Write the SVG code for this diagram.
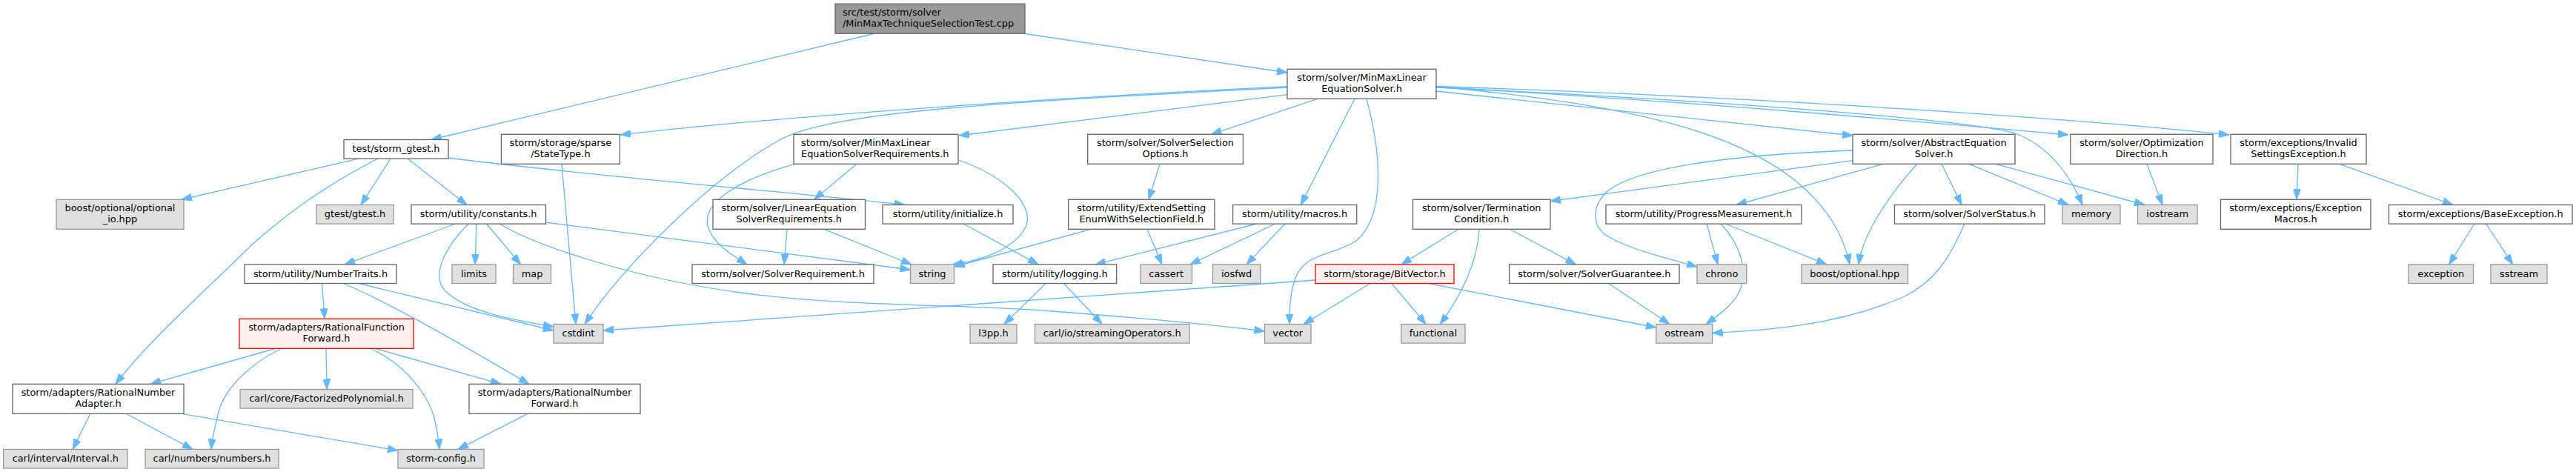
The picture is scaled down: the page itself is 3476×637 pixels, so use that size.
<svg xmlns="http://www.w3.org/2000/svg" width="3476" height="637" viewBox="0 0 3476 637">
<style>
text{font-family:"DejaVu Sans","Liberation Sans",sans-serif;font-size:12.9px;fill:#000;text-anchor:middle}
.n rect{fill:#fff;stroke:#666;stroke-width:1.3}
.g rect{fill:#E0E0E0;stroke:#999;stroke-width:1.3}
.r rect{fill:#FFF0F0;stroke:#f00;stroke-width:1.3}
.root rect{fill:#999;stroke:#666;stroke-width:1.3}
.l text{text-anchor:start}
#edges path{fill:none;stroke:#63B8FF;stroke-width:1.3;marker-end:url(#a)}
</style>
<defs>
<marker id="a" viewBox="0 0 14 10" refX="14" refY="5" markerWidth="14" markerHeight="10" markerUnits="userSpaceOnUse" orient="auto"><path d="M0,0 L14,5 L0,10 z" fill="#63B8FF" stroke="#63B8FF"/></marker>
</defs>
<rect width="3476" height="637" fill="#fff"/>
<g id="edges">
<path d="M1179,45.5 L582,188.5"/>
<path d="M1383,45.5 L1737,98"/>
<path d="M484,214.1 L245,269.3"/>
<path d="M527,214.1 L487,276.5"/>
<path d="M550,214.1 L630,276.5"/>
<path d="M510,214.1 C430,255 380,295 340,330 C280,390 200,460 156,518.3"/>
<path d="M605,213 C800,238 1100,262 1221,276.5"/>
<path d="M1737,116.7 C1500,128 1100,152 837,182"/>
<path d="M1737,118 C1350,138 1120,150 1050,190 C960,240 840,360 789,437.5"/>
<path d="M1737,127.7 L1294,183"/>
<path d="M1778,133.3 L1634.5,181.3"/>
<path d="M1828,133.3 L1755.3,276.5"/>
<path d="M1844,133.3 C1862,200 1872,290 1830,325 C1800,345 1762,340 1748,375 C1741,395 1740,415 1740,437.5"/>
<path d="M1938,123 L2500,183"/>
<path d="M1938,117 C2200,140 2350,180 2430,250 C2470,285 2488,320 2496,356.9"/>
<path d="M1938,118 C2300,135 2650,160 2720,180 C2770,200 2795,240 2810,276.5"/>
<path d="M1938,117.5 C2300,138 2600,165 2791,182"/>
<path d="M1938,116.5 C2400,132 2800,160 3008,182"/>
<path d="M615,302 L465,356.9"/>
<path d="M643,302 L641,356.9"/>
<path d="M656.5,302 L702.5,356.9"/>
<path d="M632,302 C600,335 582,370 600,392 C630,422 700,433 747,441"/>
<path d="M736,300 L1228.5,364"/>
<path d="M674,302 C720,330 850,375 1000,395 C1150,415 1300,410 1420,420 C1550,430 1650,440 1706.5,447"/>
<path d="M434.5,382.5 L438,430.3"/>
<path d="M484,382.5 L747,446"/>
<path d="M463,382.5 C530,410 640,475 714,518.3"/>
<path d="M371,470.5 L203,518.3"/>
<path d="M379,470.5 C330,495 300,530 294,560 C289,580 286,595 285,606.4"/>
<path d="M440,470.5 L441,525.5"/>
<path d="M500,470.5 C545,490 575,530 585,560 C590,580 592,595 593,606.4"/>
<path d="M507,470.5 L676,518.3"/>
<path d="M122,558.3 L98,606.4"/>
<path d="M170,558.3 L260,606.4"/>
<path d="M245,558.3 L537,608"/>
<path d="M712,558.3 L618,606.4"/>
<path d="M758,221.3 L777,437.5"/>
<path d="M1156,221.3 L1098.5,269.3"/>
<path d="M1072,221.3 C990,245 948,275 955,305 C962,330 990,345 1008,356.9"/>
<path d="M1294,216 C1360,240 1400,280 1382,310 C1365,338 1322,352 1285,357"/>
<path d="M1062,309.3 L1058,356.9"/>
<path d="M1112,309.3 L1230,357"/>
<path d="M1300,302 L1401,356.9"/>
<path d="M1565,221.3 L1550,269.3"/>
<path d="M1472,309.3 L1288,360"/>
<path d="M1548,309.3 L1568,356.9"/>
<path d="M1696,302 L1478,356.9"/>
<path d="M1721,302 L1606,356.9"/>
<path d="M1734,302 L1682,356.9"/>
<path d="M1411,382.5 L1355,437.5"/>
<path d="M1435.5,382.5 L1487,437.5"/>
<path d="M2500,216.7 L2092,271.5"/>
<path d="M2500,203 C2350,208 2200,225 2165,262 C2145,285 2150,310 2175,322 C2210,340 2255,350 2290,360"/>
<path d="M2541,221.3 L2343,276.5"/>
<path d="M2620,221.3 L2647,276.5"/>
<path d="M2657,221.3 L2791,276.5"/>
<path d="M2693,221.3 L2894,276.5"/>
<path d="M2587,221.3 C2560,250 2528,295 2515,330 C2511,340 2509,350 2508,356.9"/>
<path d="M1968,309.3 L1891,356.9"/>
<path d="M1996,309.3 C1994,350 1975,395 1943,437.5"/>
<path d="M2037,309.3 L2126.5,356.9"/>
<path d="M1775,378 L814,446"/>
<path d="M1849,382.5 L1759,437.5"/>
<path d="M1878,382.5 L1924,437.5"/>
<path d="M1927.5,382.5 L2234.8,442"/>
<path d="M2170.5,382.5 L2253,437.5"/>
<path d="M2303,302 L2318,356.9"/>
<path d="M2322,302 C2348,330 2365,372 2340,405 C2328,420 2312,430 2302,437.5"/>
<path d="M2328,302 L2465,356.9"/>
<path d="M2651,302 C2630,350 2610,380 2570,400 C2480,440 2380,446 2310.6,449.5"/>
<path d="M2897,221.3 L2918,276.5"/>
<path d="M3101,221.3 L3099,269.3"/>
<path d="M3157,221.3 L3310,276.5"/>
<path d="M3339,302 L3304.6,356.9"/>
<path d="M3354.4,302 L3390.7,356.9"/>
</g>
<g id="n0" class="root l"><rect x="1127" y="5.2" width="256" height="40"/><text x="1137" y="21.2">src/test/storm/solver</text><text x="1137" y="35.8">/MinMaxTechniqueSelectionTest.cpp</text></g>
<g id="n2" class="n"><rect x="1737" y="93.3" width="201" height="40"/><text x="1837.5" y="109.3">storm/solver/MinMaxLinear</text><text x="1837.5" y="123.9">EquationSolver.h</text></g>
<g id="n1" class="n"><rect x="464" y="188.5" width="141" height="25.6"/><text x="534.5" y="205.3">test/storm_gtest.h</text></g>
<g id="n20" class="n"><rect x="676.4" y="181.3" width="160" height="40"/><text x="756.4" y="197.3">storm/storage/sparse</text><text x="756.4" y="211.9">/StateType.h</text></g>
<g id="n21" class="n l"><rect x="1071" y="181.3" width="222" height="40"/><text x="1081" y="197.3">storm/solver/MinMaxLinear</text><text x="1081" y="211.9">EquationSolverRequirements.h</text></g>
<g id="n24" class="n"><rect x="1467.7" y="181.3" width="209.7" height="40"/><text x="1572.5" y="197.3">storm/solver/SolverSelection</text><text x="1572.5" y="211.9">Options.h</text></g>
<g id="n39" class="n"><rect x="2500" y="181.3" width="219" height="40"/><text x="2609.5" y="197.3">storm/solver/AbstractEquation</text><text x="2609.5" y="211.9">Solver.h</text></g>
<g id="n40" class="n"><rect x="2793.8" y="181.3" width="192.2" height="40"/><text x="2889.9" y="197.3">storm/solver/Optimization</text><text x="2889.9" y="211.9">Direction.h</text></g>
<g id="n45" class="n"><rect x="3010" y="181.3" width="183" height="40"/><text x="3101.5" y="197.3">storm/exceptions/Invalid</text><text x="3101.5" y="211.9">SettingsException.h</text></g>
<g id="n3" class="g"><rect x="76" y="269.3" width="172" height="40"/><text x="162" y="285.3">boost/optional/optional</text><text x="162" y="299.9">_io.hpp</text></g>
<g id="n4" class="g"><rect x="427" y="276.5" width="104" height="25.6"/><text x="479" y="293.3">gtest/gtest.h</text></g>
<g id="n5" class="n"><rect x="555" y="276.5" width="181.5" height="25.6"/><text x="645.7" y="293.3">storm/utility/constants.h</text></g>
<g id="n22" class="n"><rect x="962" y="269.3" width="205.5" height="40"/><text x="1064.7" y="285.3">storm/solver/LinearEquation</text><text x="1064.7" y="299.9">SolverRequirements.h</text></g>
<g id="n7" class="n"><rect x="1191" y="276.5" width="176" height="25.6"/><text x="1279" y="293.3">storm/utility/initialize.h</text></g>
<g id="n25" class="n"><rect x="1441.7" y="269.3" width="197.3" height="40"/><text x="1540.3" y="285.3">storm/utility/ExtendSetting</text><text x="1540.3" y="299.9">EnumWithSelectionField.h</text></g>
<g id="n26" class="n"><rect x="1663.6" y="276.5" width="167.1" height="25.6"/><text x="1747.1" y="293.3">storm/utility/macros.h</text></g>
<g id="n32" class="n"><rect x="1906.5" y="269.3" width="185.5" height="40"/><text x="1999.2" y="285.3">storm/solver/Termination</text><text x="1999.2" y="299.9">Condition.h</text></g>
<g id="n33" class="n"><rect x="2167" y="276.5" width="264" height="25.6"/><text x="2299" y="293.3">storm/utility/ProgressMeasurement.h</text></g>
<g id="n41" class="n"><rect x="2556.5" y="276.5" width="202.5" height="25.6"/><text x="2657.7" y="293.3">storm/solver/SolverStatus.h</text></g>
<g id="n42" class="g"><rect x="2783" y="276.5" width="78" height="25.6"/><text x="2822" y="293.3">memory</text></g>
<g id="n43" class="g"><rect x="2884.5" y="276.5" width="80.5" height="25.6"/><text x="2924.7" y="293.3">iostream</text></g>
<g id="n46" class="n"><rect x="2996.5" y="269.3" width="202.5" height="40"/><text x="3097.7" y="285.3">storm/exceptions/Exception</text><text x="3097.7" y="299.9">Macros.h</text></g>
<g id="n47" class="n"><rect x="3223.5" y="276.5" width="247.5" height="25.6"/><text x="3347.2" y="293.3">storm/exceptions/BaseException.h</text></g>
<g id="n8" class="n"><rect x="330" y="356.9" width="205" height="25.6"/><text x="432.5" y="373.7">storm/utility/NumberTraits.h</text></g>
<g id="n9" class="g"><rect x="610" y="356.9" width="59" height="25.6"/><text x="639.5" y="373.7">limits</text></g>
<g id="n10" class="g"><rect x="692.5" y="356.9" width="51" height="25.6"/><text x="718" y="373.7">map</text></g>
<g id="n23" class="n"><rect x="934" y="356.9" width="245" height="25.6"/><text x="1056.5" y="373.7">storm/solver/SolverRequirement.h</text></g>
<g id="n12" class="g"><rect x="1228.5" y="356.9" width="59" height="25.6"/><text x="1258" y="373.7">string</text></g>
<g id="n27" class="n"><rect x="1340" y="356.9" width="166.7" height="25.6"/><text x="1423.3" y="373.7">storm/utility/logging.h</text></g>
<g id="n28" class="g"><rect x="1539" y="356.9" width="69.5" height="25.6"/><text x="1573.7" y="373.7">cassert</text></g>
<g id="n29" class="g"><rect x="1636.5" y="356.9" width="64.3" height="25.6"/><text x="1668.6" y="373.7">iosfwd</text></g>
<g id="n34" class="r"><rect x="1775" y="356.9" width="187" height="25.6"/><text x="1868.5" y="373.7">storm/storage/BitVector.h</text></g>
<g id="n35" class="n"><rect x="2036.6" y="356.9" width="229.4" height="25.6"/><text x="2151.3" y="373.7">storm/solver/SolverGuarantee.h</text></g>
<g id="n36" class="g"><rect x="2290" y="356.9" width="66.7" height="25.6"/><text x="2323.3" y="373.7">chrono</text></g>
<g id="n44" class="g"><rect x="2431" y="356.9" width="143.5" height="25.6"/><text x="2502.7" y="373.7">boost/optional.hpp</text></g>
<g id="n48" class="g"><rect x="3250" y="356.9" width="87.5" height="25.6"/><text x="3293.7" y="373.7">exception</text></g>
<g id="n49" class="g"><rect x="3361" y="356.9" width="76" height="25.6"/><text x="3399" y="373.7">sstream</text></g>
<g id="n14" class="r"><rect x="323" y="430.3" width="235" height="40"/><text x="440.5" y="446.3">storm/adapters/RationalFunction</text><text x="440.5" y="460.9">Forward.h</text></g>
<g id="n11" class="g"><rect x="747" y="437.5" width="67" height="25.6"/><text x="780.5" y="454.3">cstdint</text></g>
<g id="n30" class="g"><rect x="1309" y="437.5" width="63" height="25.6"/><text x="1340.5" y="454.3">l3pp.h</text></g>
<g id="n31" class="g"><rect x="1396.5" y="437.5" width="208.5" height="25.6"/><text x="1500.7" y="454.3">carl/io/streamingOperators.h</text></g>
<g id="n13" class="g"><rect x="1706.5" y="437.5" width="62.5" height="25.6"/><text x="1737.7" y="454.3">vector</text></g>
<g id="n37" class="g"><rect x="1890.8" y="437.5" width="86.2" height="25.6"/><text x="1933.9" y="454.3">functional</text></g>
<g id="n38" class="g"><rect x="2234.8" y="437.5" width="75.8" height="25.6"/><text x="2272.7" y="454.3">ostream</text></g>
<g id="n6" class="n"><rect x="17" y="518.3" width="231" height="40"/><text x="132.5" y="534.3">storm/adapters/RationalNumber</text><text x="132.5" y="548.9">Adapter.h</text></g>
<g id="n16" class="g"><rect x="324" y="525.5" width="233" height="25.6"/><text x="440.5" y="542.3">carl/core/FactorizedPolynomial.h</text></g>
<g id="n15" class="n"><rect x="633" y="518.3" width="231" height="40"/><text x="748.5" y="534.3">storm/adapters/RationalNumber</text><text x="748.5" y="548.9">Forward.h</text></g>
<g id="n17" class="g"><rect x="4.6" y="606.4" width="167.4" height="25.6"/><text x="88.3" y="623.2">carl/interval/Interval.h</text></g>
<g id="n18" class="g"><rect x="196" y="606.4" width="180" height="25.6"/><text x="286" y="623.2">carl/numbers/numbers.h</text></g>
<g id="n19" class="g"><rect x="537" y="606.4" width="116" height="25.6"/><text x="595" y="623.2">storm-config.h</text></g>
</svg>
